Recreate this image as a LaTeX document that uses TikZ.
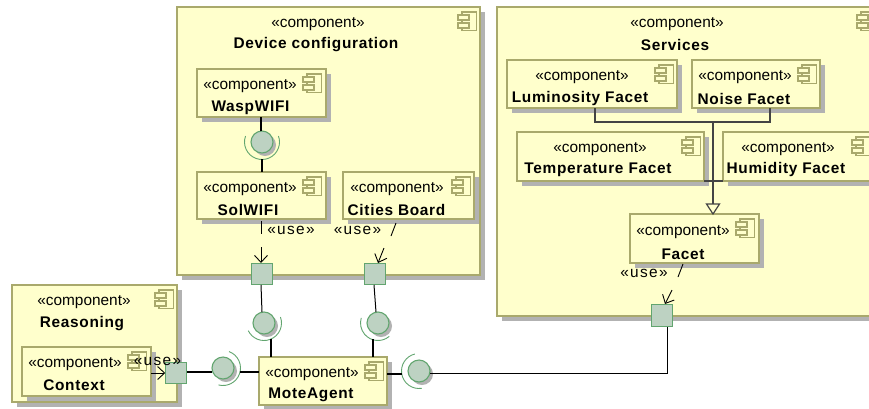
\documentclass[tikz,border=0pt]{standalone}
\usepackage{fontspec}
\setmainfont{Liberation Sans}
\newfontfamily\boldlabel[LetterSpace=4.5]{Liberation Sans Bold}
\newfontfamily\uselabel[LetterSpace=9]{Liberation Sans}
\usetikzlibrary{arrows.meta,calc}
\definecolor{compfill}{HTML}{FFFFCC}
\definecolor{compline}{HTML}{A9A96C}
\definecolor{shadowgrey}{HTML}{B2B2B2}
\definecolor{portfill}{HTML}{BDD2C2}
\definecolor{portline}{HTML}{62A56F}
\definecolor{genline}{HTML}{444444}
\tikzset{
  compbox/.style={draw=compline,fill=compfill,line width=1.1pt,inner sep=0pt,outer sep=0pt},
  stereo/.style={font=\fontsize{15.4}{15.4}\selectfont,inner sep=0pt,text=black},
  title/.style={font=\fontsize{15.4}{15.4}\boldlabel,inner sep=0pt,text=black},
  usetext/.style={font=\fontsize{15.4}{15.4}\uselabel,inner sep=0pt,text=black},
  iconline/.style={draw=compline,line width=1.1pt,fill=compfill},
  portbox/.style={draw=portline,fill=portfill,line width=1.1pt,minimum size=21.5pt,inner sep=0pt,outer sep=0pt},
  ball/.style={circle,draw=portline,fill=portfill,line width=1.1pt,minimum size=22pt,inner sep=0pt,outer sep=0pt},
  ballshadow/.style={circle,fill=shadowgrey,minimum size=22pt,inner sep=0pt},
  socket/.style={draw=portline,line width=0.9pt},
  conn/.style={draw=black,line width=1.3pt},
  thinconn/.style={draw=black,line width=1pt},
  usedep/.style={draw=black,line width=0.9pt,-{Straight Barb[length=7pt,width=13pt,line width=0.9pt]}},
  usedash/.style={draw=black,line width=0.9pt},
  genconn/.style={draw=genline,line width=1.1pt},
  gentip/.style={draw=genline,line width=1.2pt,fill=compfill},
}
% name, x1,y1,x2,y2, icon x, icon y
\newcommand{\compbox}[7]{%
  \fill[shadowgrey] (#2+4.5,#3+4.5) rectangle (#4+4.5,#5+4.5);
  \node[compbox,minimum width=#4pt-#2pt,minimum height=#5pt-#3pt] (#1) at ({(#2+#4)/2},{(#3+#5)/2}) {};
  \draw[iconline] (#6+4,#7) rectangle (#6+18.5,#7+18.5);
  \draw[iconline] (#6,#7+3) rectangle (#6+11,#7+8);
  \draw[iconline] (#6,#7+11) rectangle (#6+11,#7+16);
}
% name, x, y
\newcommand{\ballat}[3]{%
  \node[ballshadow] at (#2+3,#3+3) {};
  \node[ball] (#1) at (#2,#3) {};
}
\begin{document}
\begin{tikzpicture}[x=1pt,y=-1pt]
\clip (0,0) rectangle (869,408);
\fill[white] (0,0) rectangle (869,408);

% containers
\compbox{device}{177}{7}{480}{275}{458}{12}
\compbox{services}{497}{7}{900}{316}{857}{12}
\compbox{reasoning}{12}{285}{177}{402}{155}{290}

\coordinate (genjoin) at (713,122);

% children
\compbox{wasp}{197}{69}{326}{117}{303}{74}
\compbox{sol}{197}{172}{326}{219}{303}{177}
\compbox{cities}{343}{172}{474}{219}{452}{177}
\compbox{lum}{507}{60}{677}{108}{655}{65}
\compbox{noise}{692}{60}{820}{108}{798}{65}
\compbox{temp}{517}{132}{704}{181}{682}{137}
\compbox{humid}{723}{132}{900}{181}{852}{137}
\compbox{facet}{630}{214}{759}{263}{736}{219}
\compbox{context}{22}{347}{151}{396}{128}{352}
\compbox{mote}{259}{357}{387}{405}{365}{362}

% generalisation
\coordinate (lumdrop) at (595,122);
\coordinate (noisedrop) at (770,122);
\coordinate (gentipbase) at (713,204);
\draw[genconn] (lum.south -| lumdrop) -- (lumdrop) -- (noisedrop) -- (noise.south -| noisedrop);
\draw[genconn] (genjoin) -- (gentipbase);
\draw[genconn] (temp.south east) -- (humid.south west);
\draw[gentip] (706.5,204) -- (719.5,204) -- (713,214) -- cycle;

% ports
\node[portbox] (pdevl) at (262,274) {};
\node[portbox] (pdevr) at (375,274) {};
\node[portbox] (psvc) at (662,315.5) {};
\node[portbox] (pctx) at (176,373) {};

% balls
\ballat{bwifi}{262}{142}
\ballat{bl}{264}{323}
\ballat{br}{378}{323}
\ballat{bc}{223}{368}
\ballat{bs}{419}{371}

% sockets
\draw[socket] (262,142) ++(200:17.5) arc[start angle=200,end angle=-20,radius=17.5];
\draw[socket] (264,323) ++(-20:17.5) arc[start angle=-20,end angle=154,radius=17.5];
\draw[socket] (378,323) ++(50:17.5) arc[start angle=50,end angle=197,radius=17.5];
\draw[socket] (223,368) ++(-70:17.5) arc[start angle=-70,end angle=105,radius=17.5];
\draw[socket] (419,371) ++(81:17.5) arc[start angle=81,end angle=256,radius=17.5];

% connectors
\coordinate (wifiup) at (261,131);
\coordinate (wifilow) at (262,159);
\draw[conn] (wasp.south -| wifiup) -- (wifiup);
\draw[conn] (wifilow) -- (sol.north -| wifilow);
\coordinate (blup) at (262,312);
\coordinate (blport) at (261,285);
\draw[thinconn] (blport) -- (blup);
\coordinate (bllow) at (271,339);
\draw[conn] (bllow) -- (mote.north -| bllow);
\coordinate (brup) at (376,312);
\coordinate (brport) at (374,285);
\draw[thinconn] (brport) -- (brup);
\coordinate (brlow) at (373,339);
\draw[conn] (brlow) -- (mote.north -| brlow);
\coordinate (bcleft) at (212,372);
\coordinate (pctxright) at (187,372);
\draw[conn] (pctxright) -- (bcleft);
\coordinate (bcright) at (239.5,372);
\draw[conn] (bcright) -- (mote.west |- bcright);
\coordinate (bsleft) at (402,374);
\draw[conn] (mote.east |- bsleft) -- (bsleft);
\coordinate (svccorner) at (667,373);
\coordinate (bsright) at (430,373);
\coordinate (svcport) at (667,327);
\draw[thinconn] (bsright) -- (svccorner) -- (svcport);

% use dependencies
\coordinate (useA) at (261,221);
\coordinate (useAa) at (261,234);
\coordinate (useAb) at (261,247);
\coordinate (useAt) at (261,263);
\draw[usedash] (useA) -- (useAa);
\draw[usedep] (useAb) -- (useAt);
\coordinate (useB) at (396,223);
\coordinate (useBa) at (391,236);
\coordinate (useBb) at (384,248);
\coordinate (useBt) at (378,263);
\draw[usedash] (useB) -- (useBa);
\draw[usedep] (useBb) -- (useBt);
\coordinate (useC) at (683,264);
\coordinate (useCa) at (678,277);
\coordinate (useCb) at (672,290);
\coordinate (useCt) at (665,304);
\draw[usedash] (useC) -- (useCa);
\draw[usedep] (useCb) -- (useCt);
\coordinate (useD) at (151,373);
\draw[usedep] (useD) -- (pctx.west);

% labels
\node[usetext] (luA) at (291,230) {«use»};
\node[usetext] (luB) at (357.5,230) {«use»};
\node[usetext] (luC) at (644,273.5) {«use»};
\node[usetext] (luD) at (157.5,361) {«use»};

\node[stereo] (t1) at (318,24) {«component»};
\node[title] (t2) at (316,45) {Device configuration};
\node[stereo] (t3) at (250,86) {«component»};
\node[title] (t4) at (250.5,108) {WaspWIFI};
\node[stereo] (t5) at (250,189) {«component»};
\node[title] (t6) at (248,210) {SolWIFI};
\node[stereo] (t7) at (397,189) {«component»};
\node[title] (t8) at (396.5,210) {Cities Board};
\node[stereo] (t9) at (677,24) {«component»};
\node[title] (t10) at (675,45) {Services};
\node[stereo] (t11) at (582,77) {«component»};
\node[title] (t12) at (580,99) {Luminosity Facet};
\node[stereo] (t13) at (745,77) {«component»};
\node[title] (t14) at (744,99) {Noise Facet};
\node[stereo] (t15) at (600,149) {«component»};
\node[title] (t16) at (598,170) {Temperature Facet};
\node[stereo] (t17) at (788,149) {«component»};
\node[title] (t18) at (786,170) {Humidity Facet};
\node[stereo] (t19) at (683,232) {«component»};
\node[title] (t20) at (683,254) {Facet};
\node[stereo] (t21) at (84,302) {«component»};
\node[title] (t22) at (82,324) {Reasoning};
\node[stereo] (t23) at (75,364) {«component»};
\node[title] (t24) at (74,385) {Context};
\node[stereo] (t25) at (312,374) {«component»};
\node[title] (t26) at (311,395) {MoteAgent};
\end{tikzpicture}
\end{document}
